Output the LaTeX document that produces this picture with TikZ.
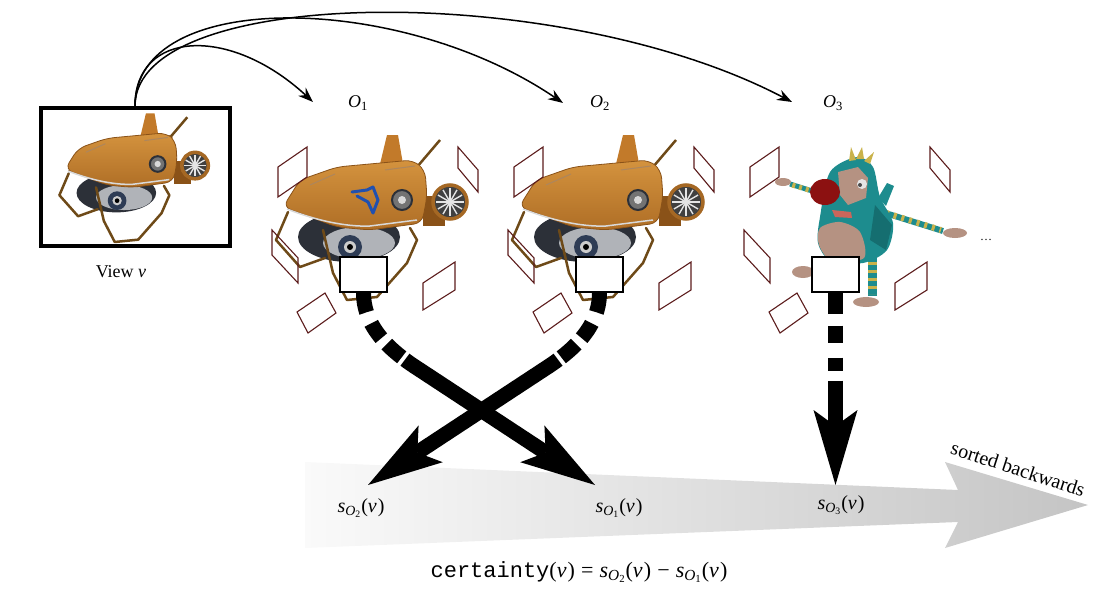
\documentclass[tikz,border=0pt]{standalone}
\usepackage{fontspec}
\setmainfont{Liberation Serif}
\setmonofont{Liberation Mono}
\usetikzlibrary{arrows.meta,shapes.geometric}

% object and score symbols, set in the text italic
\newcommand{\objsym}[1]{\textit{O}\textsubscript{#1}}
\newcommand{\scoresym}[1]{\textit{s}\textsubscript{\textit{O}\textsubscript{#1}}(\textit{v\kern0.05em})}

\definecolor{camred}{HTML}{5C1C1C}
\definecolor{hullorange}{HTML}{C27A2A}
\definecolor{hulllight}{HTML}{D4933E}
\definecolor{hulldark}{HTML}{8A5218}
\definecolor{legbrown}{HTML}{6E4A18}
\definecolor{spheredark}{HTML}{2C3038}
\definecolor{spherelight}{HTML}{B0B3B8}
\definecolor{lensblue}{HTML}{2E3C55}
\definecolor{markblue}{HTML}{2050B0}
\definecolor{monteal}{HTML}{1D8C8E}
\definecolor{montealdark}{HTML}{156E70}
\definecolor{montan}{HTML}{B59282}
\definecolor{monred}{HTML}{8C1111}
\definecolor{monyellow}{HTML}{C9B24A}

\tikzset{
  lbl/.style={font=\fontsize{18}{21}\selectfont, inner sep=0pt},
  viewframe/.style={draw, line width=4pt, minimum width=189pt, minimum height=138pt, inner sep=0pt},
  slot/.style={draw, fill=white, line width=1.2pt, minimum width=47pt, minimum height=35pt, inner sep=0pt},
  cam/.style={draw=camred, line width=1.1pt},
  link/.style={line width=1.5pt, -{Stealth[length=15pt,width=11pt]}},
  scorearrow/.style={line width=15pt, -{Stealth[length=75pt,width=44pt,inset=16pt,line width=0pt]}},
  leg/.style={draw=legbrown, line width=2.5pt, line join=round, line cap=round},
  % little submarine robot, origin at the middle of its hull
  robot/.pic={
    % fan on the back
    \fill[hulldark] (68,-4) rectangle (90,26);
    \fill[black!75] (95,2) circle (17);
    \foreach \a in {0,30,...,330} \draw[white!80!gray, line width=1.4pt] (95,2) -- ++(\a:14);
    \draw[hullorange!85!black, line width=3.5pt] (95,2) circle (17);
    % fin and antenna
    \draw[legbrown, line width=2.5pt] (62,-33) -- (85,-60);
    \fill[hullorange] (25,-36) -- (32,-65) -- (43,-65) -- (48,-36) -- cycle;
    % camera sphere under the hull
    \fill[spheredark] (-6,37) ellipse [x radius=51, y radius=25];
    \fill[spherelight] (4,43) ellipse [x radius=36, y radius=16];
    \fill[lensblue] (-5,47) circle (12);
    \fill[black!20] (-5,47) circle (6);
    \fill[black] (-5,47) circle (3);
    % legs
    \draw[leg] (-67,12) -- (-79,40) -- (-55,67) -- (-30,58);
    \draw[leg] (-32,30) -- (-22,73) -- (-8,100) -- (22,97) -- (52,63) -- (62,40) -- (55,28);
    % hull
    \shade[top color=hulllight, bottom color=hullorange!90!black, draw=hulldark, line width=0.8pt, rounded corners=8pt]
      (-72,7) -- (-55,-20) -- (-18,-33) -- (58,-40) -- (70,-30) -- (72,-3) -- (67,23) -- (15,30) -- (-18,27) -- (-58,12) -- cycle;
    \draw[black!15, line width=1.5pt] (-68,9) .. controls (-40,20) and (-10,27) .. (15,26) -- (62,20);
    \draw[hulldark!70, line width=1pt] (-45,-15) -- (-20,-26) (30,-30) -- (60,-34);
    % port on the hull
    \fill[black!55] (47,0) circle (10);
    \draw[spheredark, line width=2pt] (47,0) circle (10);
    \fill[black!15] (47,0) circle (4);
  },
  % five cameras around an object
  cams/.pic={
    \draw[cam] (278,167) -- (307,147) -- (307,177) -- (278,197) -- cycle;
    \draw[cam] (458,147) -- (478,170) -- (478,192) -- (458,168) -- cycle;
    \draw[cam] (272,230) -- (298,258) -- (298,283) -- (272,255) -- cycle;
    \draw[cam] (423,283) -- (455,262) -- (455,290) -- (423,310) -- cycle;
    \draw[cam] (297,312) -- (325,293) -- (336,313) -- (308,333) -- cycle;
  },
}

\begin{document}
\begin{tikzpicture}[x=1pt,y=-1pt]
\useasboundingbox (0,0) rectangle (1093,589);

% sorted score axis
\shade[left color=black!2, right color=black!23]
  (305,462) -- (958,490) -- (945,462) -- (1088,505) -- (945,548) -- (958,522) -- (305,548) -- cycle;
\node[lbl, font=\fontsize{20}{23}\selectfont, rotate=-18] (sorted) at (1018,469) {sorted backwards};

% query view
\pic[scale=0.78] at (121,164) {robot};
\node[viewframe] (view) at (135,177) {};
\node[lbl] (viewlbl) at (121,272) {View \textit{v}};

% objects
\pic at (355,200) {robot};
\draw[markblue, line width=3pt, line join=round, line cap=round]
  (352,192) -- (367,190) -- (373,187) -- (378,200) -- (373,213) -- (368,202) -- (357,196);
\pic at (591,200) {robot};

% third object: a creature
\begin{scope}
  \draw[monteal, line width=5pt] (825,195) -- (790,184);
  \draw[monyellow, line width=5pt, dash pattern=on 3pt off 4pt] (822,194) -- (792,185);
  \fill[montan] (783,182) ellipse [x radius=8, y radius=4];
  \draw[monteal, line width=6pt] (882,212) -- (943,231);
  \draw[monyellow, line width=6pt, dash pattern=on 3pt off 5pt] (886,213) -- (941,230);
  \fill[montan] (955,233) ellipse [x radius=12, y radius=5];
  \draw[monteal, line width=9pt] (872,250) -- (872,296);
  \draw[monyellow, line width=9pt, dash pattern=on 3pt off 5pt] (872,262) -- (872,294);
  \fill[montan] (866,302) ellipse [x radius=13, y radius=5];
  \fill[montan] (803,272) ellipse [x radius=11, y radius=6];
  \fill[monteal] (878,198) -- (887,183) -- (894,186) -- (886,206) -- cycle;
  \fill[monteal] plot[smooth cycle] coordinates {(857,157) (873,167) (880,197) (893,223) (887,250) (863,263) (830,260) (818,243) (820,217) (830,172)};
  \fill[montealdark] (875,205) -- (892,225) -- (886,250) -- (870,240) -- cycle;
  \fill[montan] plot[smooth cycle] coordinates {(820,228) (840,222) (860,232) (864,258) (832,261) (819,245)};
  \fill[montan] (838,172) -- (858,167) -- (868,178) -- (866,198) -- (848,205) -- (840,195) -- cycle;
  \fill[monred] (825,192) ellipse [x radius=15, y radius=13];
  \fill[black!10] (862,184) circle (5);
  \fill[black!70] (860,185) circle (2);
  \fill[montan!70!red] (832,210) -- (851,212) -- (852,218) -- (835,217) -- cycle;
  \fill[monyellow] (849,161) -- (851,147) -- (856,160) -- cycle;
  \fill[monyellow] (856,159) -- (862,147) -- (864,159) -- cycle;
  \fill[monyellow] (864,161) -- (874,152) -- (870,164) -- cycle;
\end{scope}
\node[lbl, font=\fontsize{12}{14}\selectfont] (more) at (986,240) {\dots};

% camera rings
\pic at (0,0) {cams};
\pic at (236,0) {cams};
\pic at (472,0) {cams};

% object labels
\node[lbl] (o1) at (358,103) {\objsym{1}};
\node[lbl] (o2) at (600,103) {\objsym{2}};
\node[lbl] (o3) at (833,103) {\objsym{3}};

% lookups from the view
\coordinate (t1) at (313,102);
\coordinate (t2) at (563,103);
\coordinate (t3) at (792,102);
\draw[link] (view.north) .. controls (135,30) and (230,25) .. (t1);
\draw[link] (view.north) .. controls (135,-12) and (400,-8) .. (t2);
\draw[link] (view.north) .. controls (135,-15) and (560,-20) .. (t3);

% score slots
\node[slot] (b1) at (363.5,274.5) {};
\node[slot] (b2) at (599.5,274.5) {};
\node[slot] (b3) at (835.5,274.5) {};

% scores
\node[lbl, font=\fontsize{20}{23}\selectfont] (s2) at (361,508) {\scoresym{2}};
\node[lbl, font=\fontsize{20}{23}\selectfont] (s1) at (619,508) {\scoresym{1}};
\node[lbl, font=\fontsize{20}{23}\selectfont] (s3) at (841,505) {\scoresym{3}};

\draw[scorearrow, dash pattern=on 20pt off 12pt on 18pt off 8pt on 20pt off 4pt on 600pt]
  (b1.south) .. controls (363.5,330) and (395,354) .. (420,370) -- (595,485);
\draw[scorearrow, dash pattern=on 20pt off 12pt on 18pt off 8pt on 20pt off 4pt on 600pt]
  (b2.south) .. controls (599.5,330) and (568,354) .. (543,370) -- (368,485);
\draw[scorearrow, dash pattern=on 21pt off 12pt on 17pt off 15pt on 13pt off 10pt on 600pt]
  (b3.south) -- (835.5,485);

% certainty of the view
\node[lbl, font=\fontsize{22}{25}\selectfont] (cert) at (579,572)
  {\texttt{certainty}(\textit{v\kern0.05em})\;=\;\scoresym{2}\;\char"2212\;\scoresym{1}};
\end{tikzpicture}
\end{document}
